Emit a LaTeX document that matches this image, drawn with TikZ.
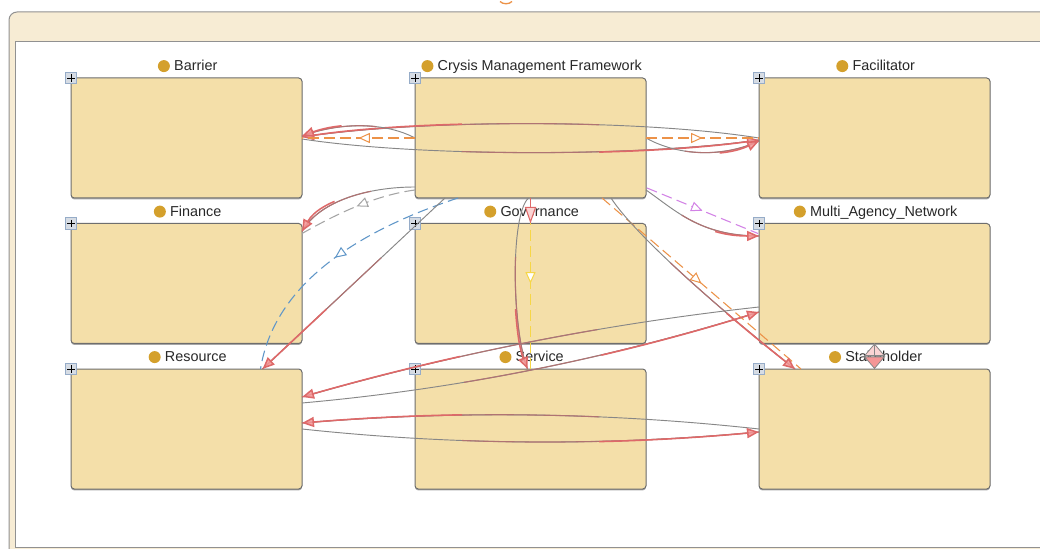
\documentclass[tikz,border=0pt]{standalone}
\usepackage{fontspec}
\setmainfont{Liberation Sans}
\usetikzlibrary{arrows.meta,decorations.markings,calc,shadows}

\definecolor{boxfill}{RGB}{244,223,169}
\definecolor{boxline}{RGB}{110,110,110}
\definecolor{framefill}{RGB}{247,236,212}
\definecolor{framegray}{RGB}{145,145,145}
\definecolor{dotgold}{RGB}{212,160,44}
\definecolor{labeltext}{RGB}{40,40,40}
\definecolor{relgray}{RGB}{135,135,135}
\definecolor{relmid}{RGB}{175,115,115}
\definecolor{relred}{RGB}{222,105,105}
\definecolor{tipfill}{RGB}{245,150,150}
\definecolor{tippale}{RGB}{250,212,212}
\definecolor{deporange}{RGB}{236,146,72}
\definecolor{depgray}{RGB}{165,165,165}
\definecolor{depblue}{RGB}{95,150,200}
\definecolor{deppurple}{RGB}{210,130,230}
\definecolor{depyellow}{RGB}{246,214,70}
\definecolor{iconfill}{RGB}{214,220,228}
\definecolor{iconline}{RGB}{150,172,200}

% length of the connector being drawn, filled in by a marking
\newcommand\connlen{100}

\begin{document}
\begin{tikzpicture}[x=0.75pt, y=-0.75pt,
  classbox/.style={draw=boxline, fill=boxfill, line width=0.75pt, rounded corners=2.5pt,
    minimum width=173.25pt, minimum height=90pt, inner sep=0pt, outer sep=0pt,
    drop shadow={shadow xshift=0pt, shadow yshift=-1.1pt, opacity=0.35, fill=black}},
  plusicon/.style={draw=iconline, fill=iconfill, minimum size=8.6pt, inner sep=0pt, line width=0.5pt,
    path picture={\draw[black, line width=0.6pt]
      ($(path picture bounding box.center)+(-3.6,0)$) -- ++(7.2,0)
      ($(path picture bounding box.center)+(0,-3.6)$) -- ++(0,7.2);}},
  classname/.style={font=\fontsize{10.8}{13}\selectfont, text=labeltext, inner sep=0pt, anchor=base},
  golddot/.style={fill=dotgold},
  % association: grey at the source, turning red towards the arrow head
  rel/.style={draw=relgray, line width=0.7pt,
    postaction={decorate, decoration={markings, mark=at position 0.5 with
      {\pgfmathsetmacro\tmplen{\pgfdecoratedpathlength}\global\let\connlen\tmplen}}},
    postaction={draw=relmid, line width=0.85pt, dash pattern=on 0pt off 0.35*\connlen on 3000pt},
    postaction={draw=relred, line width=1.15pt, dash pattern=on 0pt off 0.65*\connlen on 3000pt,
      fill opacity=0.85, -{Triangle[length=9pt, width=7.5pt, fill=tipfill]}}},
  % dependency: dashed, open triangle half way
  dep/.style={draw=#1, line width=0.8pt, dash pattern=on 8pt off 4pt,
    postaction={solid, decorate, decoration={markings, mark=at position 0.5 with
      {\arrow{Triangle[length=8.5pt, width=7.5pt, fill=white, line width=0.75pt]}}}}}]

\useasboundingbox (0,0) rectangle (1040,549);
\clip (0,0) rectangle (1040,549);

% package frame
\filldraw[fill=framefill, draw=framegray, line width=0.75pt, rounded corners=6pt] (9,12) rectangle (1075,580);
\filldraw[fill=white, draw=framegray, line width=0.75pt] (15,42) rectangle (1070,547.5);
\draw[deporange, line width=1pt] (500,1.5) .. controls (503,4.5) and (509,4.5) .. (512,1.5);

% classes
\node[classbox] (B)  at (186.5,138) {};
\node[classbox] (C)  at (530.5,138) {};
\node[classbox] (F)  at (874.5,138) {};
\node[classbox] (Fi) at (186.5,283.5) {};
\node[classbox] (G)  at (530.5,283.5) {};
\node[classbox] (M)  at (874.5,283.5) {};
\node[classbox] (R)  at (186.5,429) {};
\node[classbox] (S)  at (530.5,429) {};
\node[classbox] (K)  at (874.5,429) {};

\foreach \n/\t in {B/Barrier, C/Crysis Management Framework, F/Facilitator,
                   Fi/Finance, G/Governance, M/Multi\_Agency\_Network,
                   R/Resource, S/Service, K/Stakeholder}{
  \node[plusicon] (\n-plus) at (\n.north west) {};
  \node[classname] (\n-name) at ($(\n.north)+(9.25,-7.3)$) {\t};
  \fill[golddot] ($(\n-name.base west)+(-10,-4.6)$) circle[radius=6];
}

% top row
\draw[rel] (F.west) .. controls +(-119,-19) and +(118,-18) .. ($(B.east)+(0,-1)$);
\draw[rel] ($(B.east)+(0,1)$) .. controls +(118,18) and +(-119,17) .. ($(F.west)+(0,2)$);
\draw[rel] (C.west) .. controls +(-30,-16) and +(38,-14) .. ($(B.east)+(0,-2)$);
\draw[rel] (C.east) .. controls +(34,19) and +(-34,16) .. ($(F.west)+(0,3)$);
\draw[dep=deporange] (C.west) -- (B.east);
\draw[dep=deporange] (C.east) -- (F.west);

% from the framework downwards
\draw[rel] ($(C.west)+(0,49)$) .. controls +(-45,0) and +(18,-31.5) .. ($(Fi.north east)+(0,8)$);
\draw[dep=depgray] ($(C.west)+(0,52)$) .. controls +(-38,5) and +(38,-21.5) .. ($(Fi.north east)+(0,10)$);
\draw[dep=depblue] ($(C.south west)+(43,0)$) .. controls +(-91,30) and +(14.5,-90) .. ($(R.north)+(74,0)$);
\draw[rel] ($(C.south west)+(30,0)$) -- ($(R.north)+(76,0)$);
\draw[rel] ($(C.south)+(-2,0)$) .. controls +(-18.5,17) and +(-15.5,-39) .. ($(S.north)+(-3,0)$);
\draw[dep=depyellow] (C.south) -- (S.north);
\draw[relred, line width=0.8pt, -{Triangle[length=12.5pt, width=8.5pt, fill=tippale]}] (C.south) -- (G.north);
\draw[dep=deppurple] ($(C.south east)+(1,-10)$) -- ($(M.north west)+(-1,10)$);
\draw[rel] ($(C.east)+(0,52)$) .. controls +(29,20) and +(-59,0) .. ($(M.west)+(0,-47.5)$);
\draw[dep=deporange] ($(C.south east)+(-44,0)$) -- ($(K.north west)+(42,0)$);
\draw[rel] ($(C.south east)+(-35,0)$) .. controls +(24,37) and +(-75,-59) .. ($(K.north west)+(36,0)$);

% lower rows
\draw[rel] ($(M.west)+(0,23.5)$) .. controls +(-155.3,17) and +(150.1,-43) .. ($(R.east)+(0,-32)$);
\draw[rel] ($(R.east)+(0,-26)$) .. controls +(155.6,-13.9) and +(-150,46.7) .. ($(M.west)+(0,28.5)$);
\draw[rel] (K.west) .. controls +(-152.7,-16.7) and +(152.7,-12.7) .. ($(R.east)+(0,-6)$);
\draw[rel] (R.east) .. controls +(152,16.3) and +(-153,14.3) .. ($(K.west)+(0,3)$);

% network <-> stakeholder
\draw[relgray, line width=0.6pt, -{Triangle[length=9.4pt, width=16pt, fill=tippale]}] (K.north) -- (M.south);
\draw[relgray, line width=0.6pt, -{Triangle[length=9.4pt, width=16pt, fill=tipfill]}] (M.south) -- (K.north);

\end{tikzpicture}
\end{document}
